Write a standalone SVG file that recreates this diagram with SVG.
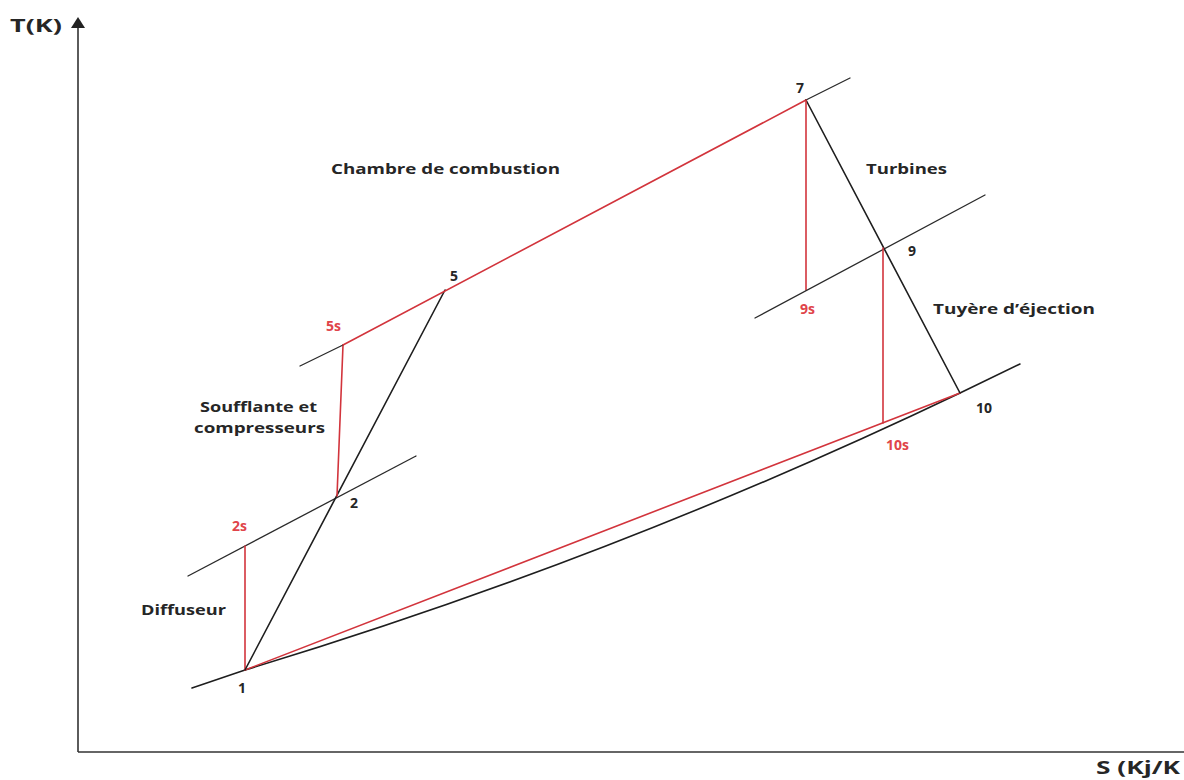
<svg xmlns="http://www.w3.org/2000/svg" width="1184" height="780" viewBox="0 0 1184 780">
<style>
.k{stroke:#1e1e1e;stroke-width:1.6;fill:none;stroke-linecap:round}
.kt{stroke:#2a2a2a;stroke-width:1.3;fill:none;stroke-linecap:round}
.r{stroke:#d2343c;stroke-width:1.6;fill:none;stroke-linecap:round}
.ax{stroke:#333;stroke-width:1.6;fill:none}
text{font-family:"Open Sans","DejaVu Sans",sans-serif;font-weight:bold;font-size:14px;fill:#262626}
.rt{fill:#e0444a}
</style>
<rect width="1184" height="780" fill="#fff"/>
<g id="axes">
<line class="ax" x1="78" y1="752" x2="78" y2="26"/>
<path d="M71,28 L78,17 L85,28 Z" fill="#222"/>
<line class="ax" x1="78" y1="752" x2="1184" y2="752"/>
<text x="10" y="32" style="font-size:18px" textLength="52" lengthAdjust="spacingAndGlyphs">T(K)</text>
<text x="1096" y="774" style="font-size:17px" textLength="84" lengthAdjust="spacingAndGlyphs">S (Kj/K</text>
</g>
<g id="connectors">
<path class="k" d="M192,688 L245,670 Q613,559 960,393 L1020,364"/>
<line class="r" x1="245" y1="670" x2="960" y2="393"/>
<line class="kt" x1="188" y1="576" x2="416" y2="456"/>
<line class="r" x1="245" y1="670" x2="245" y2="546"/>
<line class="k" x1="245" y1="670" x2="445" y2="290"/>
<line class="r" x1="337" y1="496" x2="343" y2="345"/>
<line class="kt" x1="300" y1="366" x2="343" y2="345"/>
<line class="r" x1="343" y1="345" x2="806" y2="100"/>
<line class="kt" x1="806" y1="100" x2="850" y2="78"/>
<line class="k" x1="806" y1="100" x2="960" y2="393"/>
<line class="r" x1="806" y1="100" x2="806" y2="290"/>
<line class="kt" x1="755" y1="318" x2="985" y2="195"/>
<line class="r" x1="883" y1="248" x2="883" y2="423"/>
</g>
<g id="labels">
<text x="238" y="693">1</text>
<text x="232" y="531" class="rt">2s</text>
<text x="350" y="508">2</text>
<text x="326" y="331" class="rt">5s</text>
<text x="450" y="281">5</text>
<text x="796" y="93">7</text>
<text x="908" y="256">9</text>
<text x="800" y="314" class="rt">9s</text>
<text x="976" y="413">10</text>
<text x="886" y="450" class="rt">10s</text>
<text x="141" y="615" textLength="85" lengthAdjust="spacingAndGlyphs">Diffuseur</text>
<text x="200" y="412" textLength="117" lengthAdjust="spacingAndGlyphs">Soufflante et</text>
<text x="194" y="433" textLength="131" lengthAdjust="spacingAndGlyphs">compresseurs</text>
<text x="331" y="174" textLength="229" lengthAdjust="spacingAndGlyphs">Chambre de combustion</text>
<text x="866" y="174" textLength="81" lengthAdjust="spacingAndGlyphs">Turbines</text>
<text x="933" y="314" textLength="162" lengthAdjust="spacingAndGlyphs">Tuyère d’éjection</text>
</g>
</svg>
